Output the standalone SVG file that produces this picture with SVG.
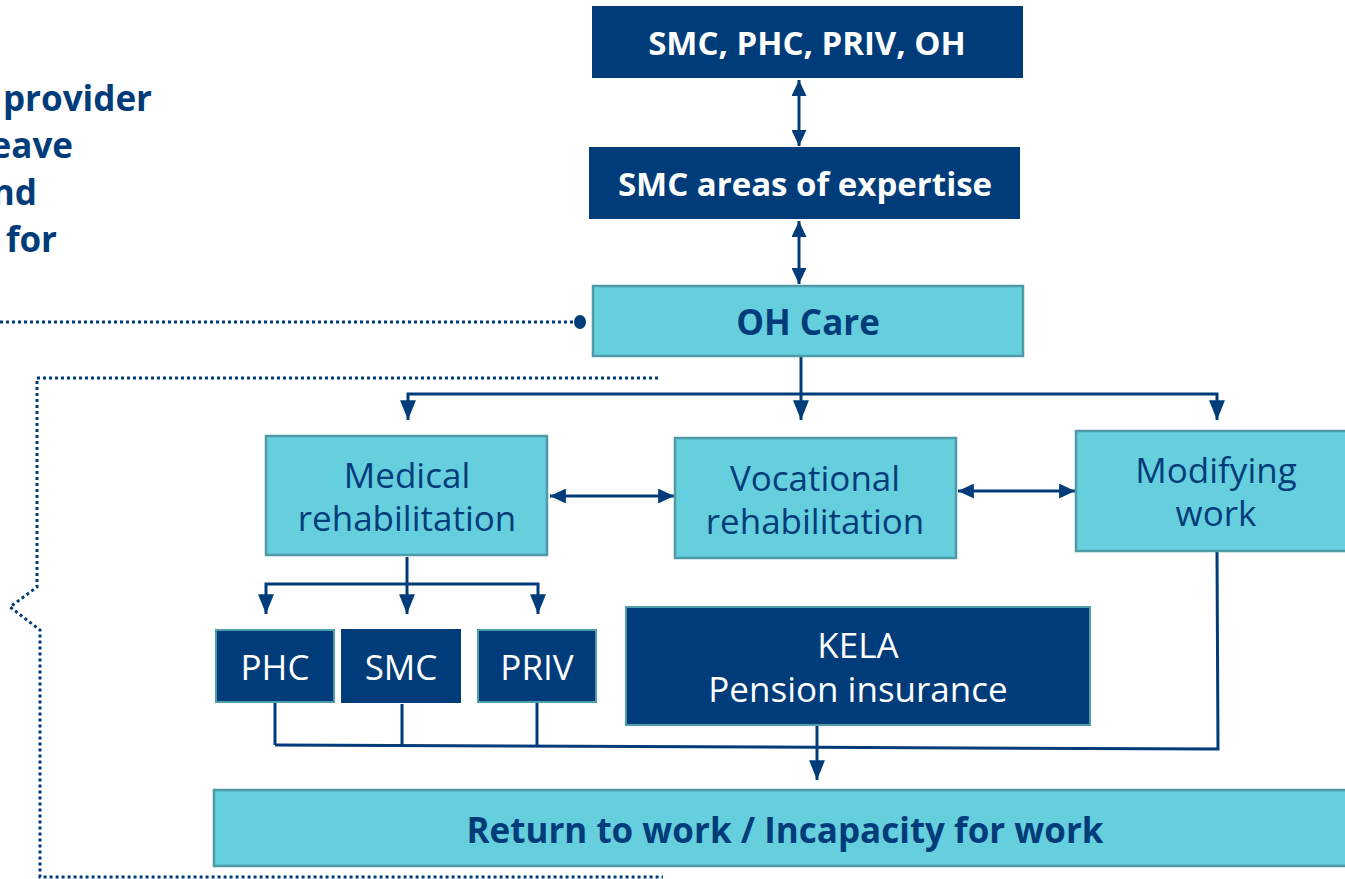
<svg xmlns="http://www.w3.org/2000/svg" width="1345" height="879" viewBox="0 0 1345 879">
  <defs>
    <marker id="ah" viewBox="0 0 20 16" refX="20" refY="8" markerWidth="6.7" markerHeight="5.3" markerUnits="strokeWidth" orient="auto-start-reverse">
      <path d="M0,0 L20,8 L0,16 z" fill="#003C7A"/>
    </marker>
    <marker id="ahs" viewBox="0 0 16 15" refX="16" refY="7.5" markerWidth="5.3" markerHeight="5" markerUnits="strokeWidth" orient="auto-start-reverse">
      <path d="M0,0 L16,7.5 L0,15 z" fill="#003C7A"/>
    </marker>
  </defs>
  <style>
    .dark { fill: #003C7A; }
    .darkb { fill: #003C7A; stroke: #4E9EAA; stroke-width: 2; }
    .light { fill: #66CFDE; stroke: #4E9AA6; stroke-width: 2.5; }
    .tw { font-family: "Open Sans", "Noto Sans", sans-serif; fill: #FFFFFF; text-anchor: middle; }
    .td { font-family: "Open Sans", "Noto Sans", sans-serif; fill: #003C7A; text-anchor: middle; }
    .b { font-weight: bold; }
    .ln { fill: none; stroke: #003C7A; stroke-width: 3; }
    .dot { fill: none; stroke: #003C7A; stroke-width: 3; stroke-dasharray: 3 3; }
  </style>

  <!-- partial heading on the left edge -->
  <g id="side-text" font-family="'Open Sans', 'Noto Sans', sans-serif" font-weight="bold" font-size="35" fill="#003C7A" text-anchor="end">
    <text x="152" y="111">provider</text>
    <text x="73" y="158">eave</text>
    <text x="37" y="205">nd</text>
    <text x="57" y="252">for</text>
  </g>

  <!-- connectors -->
  <g id="connectors">
    <!-- dotted feedback lines -->
    <line class="dot" x1="0" y1="322" x2="576" y2="322"/>
    <ellipse cx="580" cy="322" rx="6" ry="7" fill="#003C7A"/>
    <polyline class="dot" points="658,378 37,378 37,587 10,607 40,630 40,877 663,877"/>

    <!-- top chain -->
    <line class="ln" x1="799" y1="80" x2="799" y2="146" marker-start="url(#ahs)" marker-end="url(#ahs)"/>
    <line class="ln" x1="799" y1="221" x2="799" y2="284" marker-start="url(#ahs)" marker-end="url(#ahs)"/>

    <!-- OH Care split -->
    <line class="ln" x1="801" y1="357" x2="801" y2="394"/>
    <polyline class="ln" points="408,420 408,394 1217,394 1217,420" marker-start="url(#ah)" marker-end="url(#ah)"/>
    <line class="ln" x1="801" y1="394" x2="801" y2="420" marker-end="url(#ah)"/>

    <!-- lateral links -->
    <line class="ln" x1="550" y1="496" x2="674" y2="496" marker-start="url(#ahs)" marker-end="url(#ahs)"/>
    <line class="ln" x1="958" y1="491" x2="1075" y2="491" marker-start="url(#ahs)" marker-end="url(#ahs)"/>

    <!-- medical rehabilitation split -->
    <line class="ln" x1="407" y1="557" x2="407" y2="584"/>
    <polyline class="ln" points="266,614 266,584 538,584 538,614" marker-start="url(#ah)" marker-end="url(#ah)"/>
    <line class="ln" x1="407" y1="584" x2="407" y2="614" marker-end="url(#ah)"/>

    <!-- collect into return to work -->
    <line class="ln" x1="275" y1="703" x2="275" y2="745"/>
    <line class="ln" x1="402" y1="704" x2="402" y2="746"/>
    <line class="ln" x1="537" y1="703" x2="537" y2="746"/>
    <polyline class="ln" points="275,745 1218,749 1217,552"/>
    <line class="ln" x1="817" y1="726" x2="817" y2="780" marker-end="url(#ah)"/>
  </g>

  <g id="n-providers">
    <rect class="dark" x="592" y="6" width="431" height="72"/>
    <text class="tw b" x="807" y="55" font-size="33">SMC, PHC, PRIV, OH</text>
  </g>

  <g id="n-expertise">
    <rect class="dark" x="589" y="147" width="431" height="72"/>
    <text class="tw b" x="805" y="196" font-size="33">SMC areas of expertise</text>
  </g>

  <g id="n-ohcare">
    <rect class="light" x="593" y="286" width="430" height="70"/>
    <text class="td b" x="808" y="335" font-size="35">OH Care</text>
  </g>

  <g id="n-medical">
    <rect class="light" x="266" y="436" width="281" height="119"/>
    <text class="td" x="407" y="488" font-size="35">Medical</text>
    <text class="td" x="407" y="531" font-size="35">rehabilitation</text>
  </g>

  <g id="n-vocational">
    <rect class="light" x="675" y="438" width="281" height="120"/>
    <text class="td" x="815" y="491" font-size="35">Vocational</text>
    <text class="td" x="815" y="534" font-size="35">rehabilitation</text>
  </g>

  <g id="n-modifying">
    <rect class="light" x="1076" y="431" width="275" height="120"/>
    <text class="td" x="1216" y="483" font-size="35">Modifying</text>
    <text class="td" x="1216" y="526" font-size="35">work</text>
  </g>

  <g id="n-phc">
    <rect class="darkb" x="216" y="630" width="118" height="72"/>
    <text class="tw" x="275" y="680" font-size="35">PHC</text>
  </g>

  <g id="n-smc">
    <rect class="dark" x="341" y="629" width="120" height="74"/>
    <text class="tw" x="401" y="680" font-size="35">SMC</text>
  </g>

  <g id="n-priv">
    <rect class="darkb" x="478" y="630" width="118" height="72"/>
    <text class="tw" x="537" y="680" font-size="35">PRIV</text>
  </g>

  <g id="n-kela">
    <rect class="darkb" x="626" y="607" width="464" height="118"/>
    <text class="tw" x="858" y="658" font-size="35">KELA</text>
    <text class="tw" x="858" y="702" font-size="35">Pension insurance</text>
  </g>

  <g id="n-return">
    <rect class="light" x="214" y="790" width="1140" height="76"/>
    <text class="td b" x="785" y="843" font-size="35">Return to work / Incapacity for work</text>
  </g>
</svg>
